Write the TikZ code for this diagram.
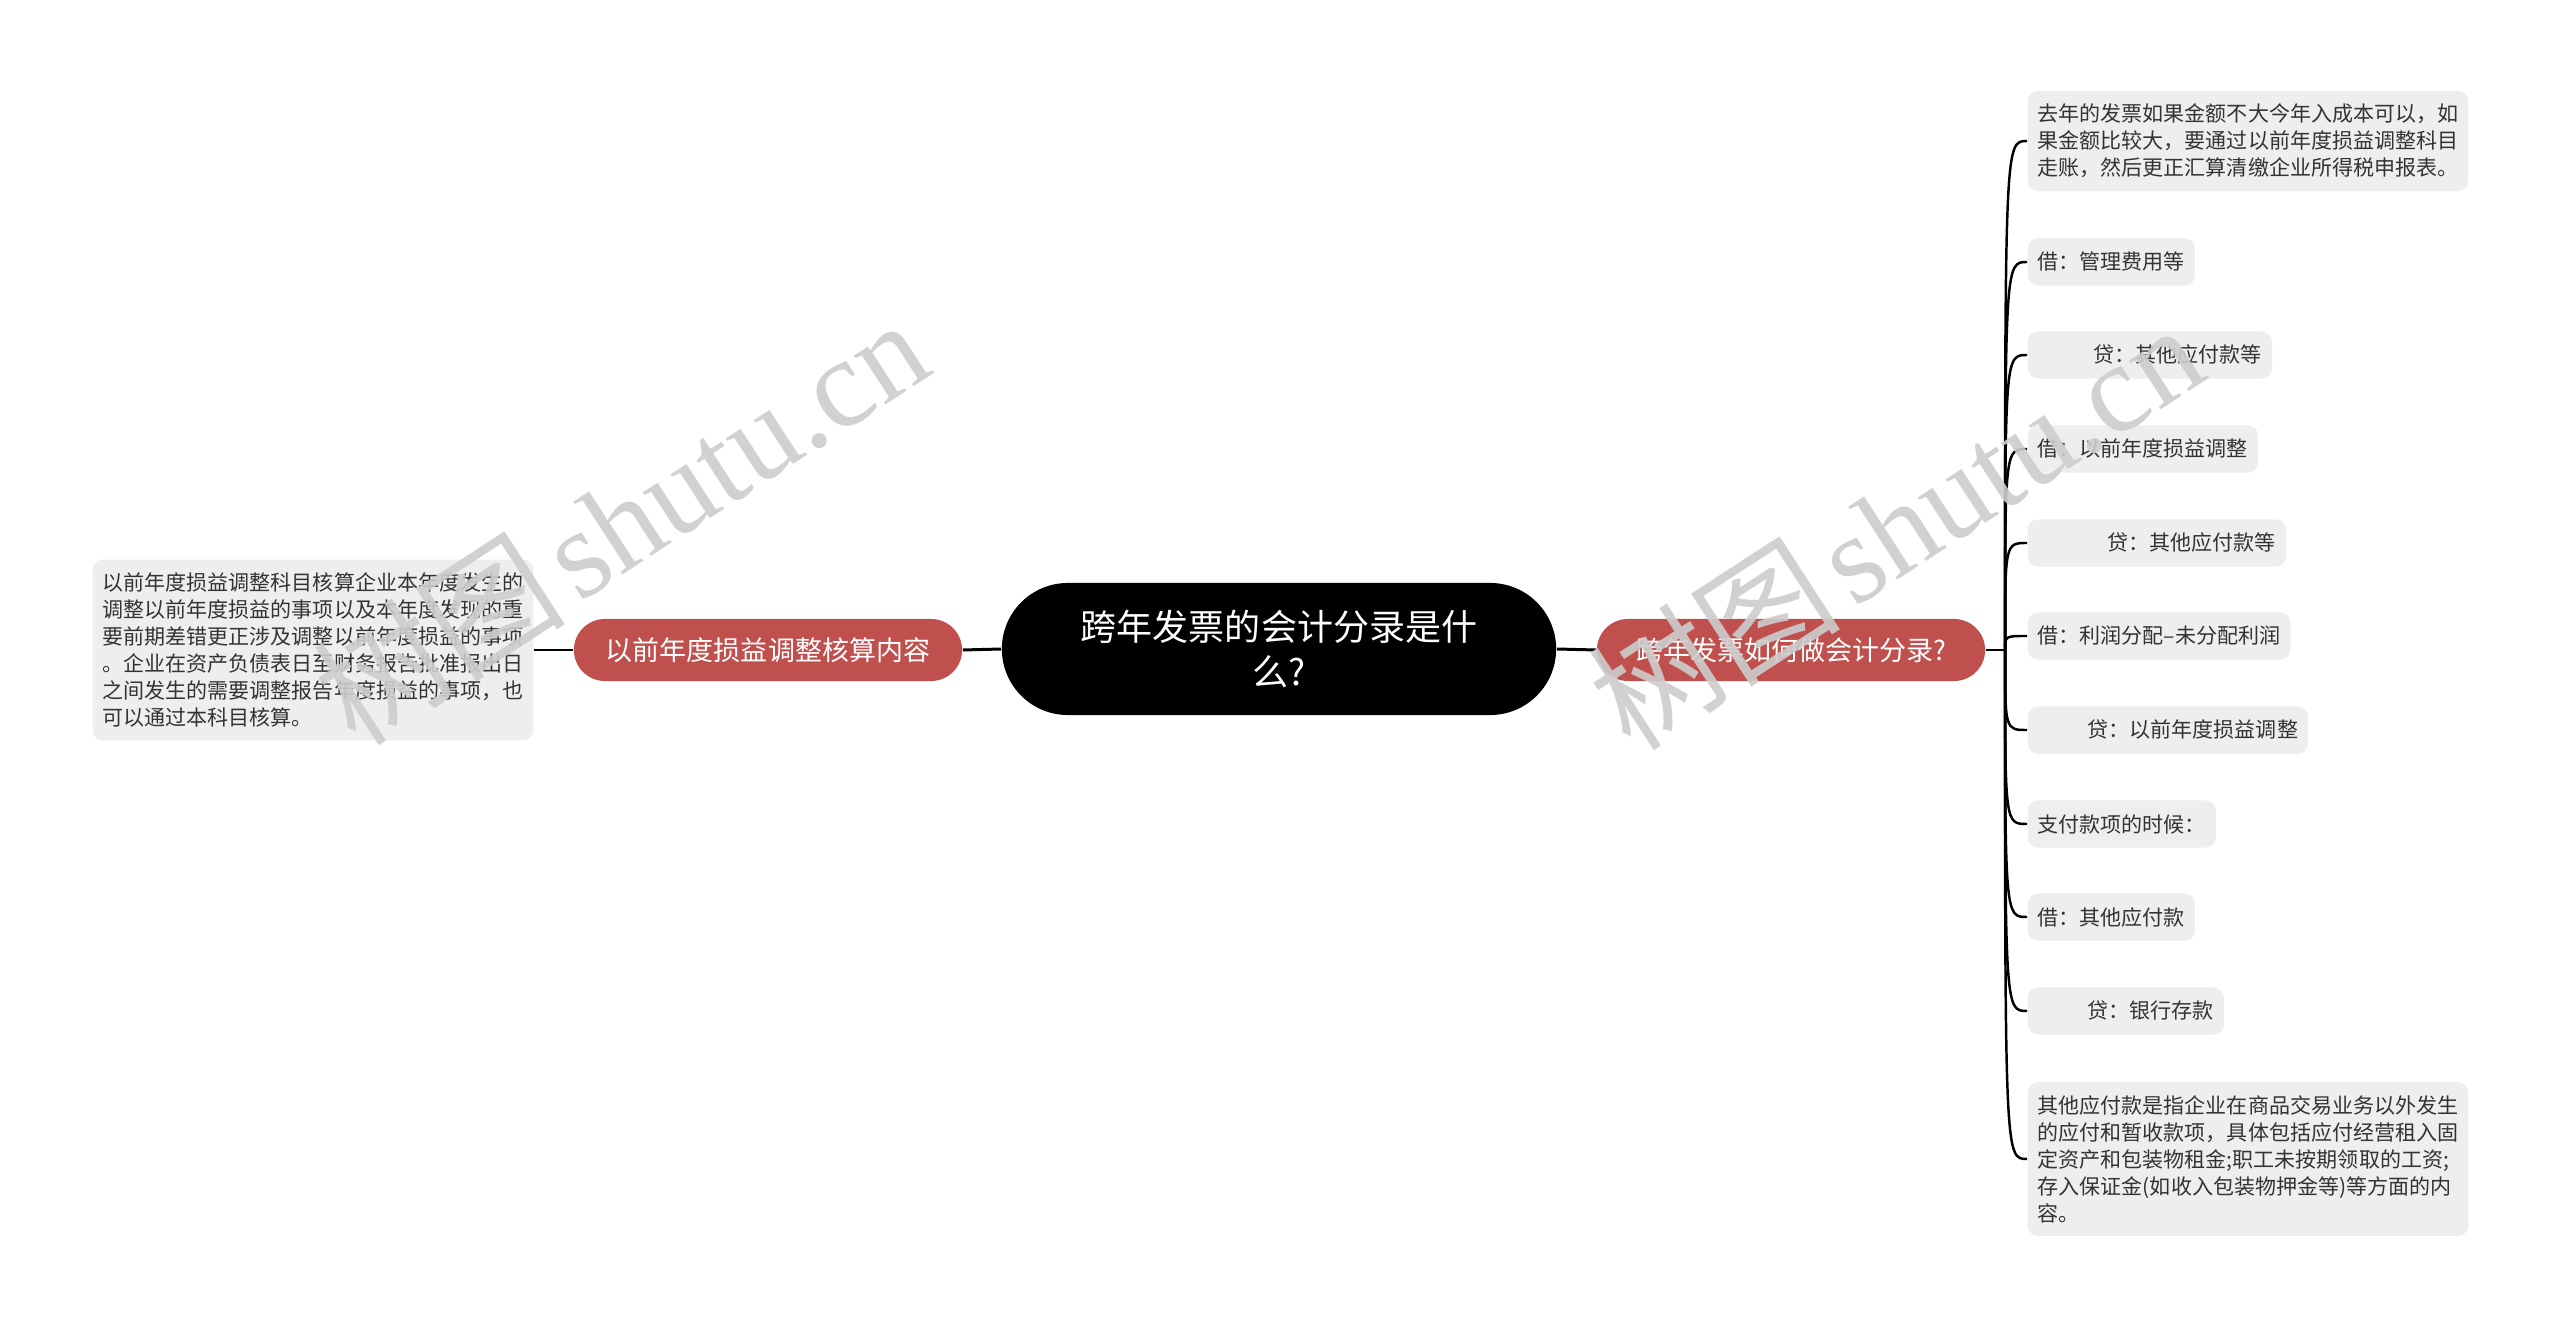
\documentclass[tikz,border=0pt]{standalone}
\usepackage{fontspec}
\setmainfont{Noto Sans CJK SC}
\newfontfamily\markfont{Liberation Serif}
\usepackage{xcolor}
\usepackage{tikz}
\usetikzlibrary{
  positioning
}
\definecolor{branchcolor}{HTML}{C0504E}
\definecolor{leafcolor}{HTML}{EEEEEE}
\definecolor{leaftext}{HTML}{333333}
\definecolor{markcolor}{HTML}{CDCDCD}

\begin{document}
\begin{tikzpicture}[
  x=0.01cm, y=-0.01cm,
  root/.style={fill=black, text=white, rounded corners=0.66cm,
               minimum width=5.54cm, minimum height=1.32cm,
               font=\fontsize{10.24pt}{12.8pt}\selectfont, align=center},
  branch/.style={fill=branchcolor, text=white, rounded corners=0.31cm,
                 minimum width=3.88cm, minimum height=0.62cm,
                 font=\fontsize{7.68pt}{9pt}\selectfont},
  leaf/.style={fill=leafcolor, text=leaftext, rounded corners=0.1cm,
               inner xsep=0.1cm, inner ysep=0.13cm, minimum height=0.47cm,
               font=\fontsize{5.98pt}{7.68pt}\selectfont, align=left},
  link/.style={line width=0.85pt, black},
  twig/.style={line width=0.7pt, black},
  wmark/.style={text=markcolor, text opacity=0.9, rotate=33,
                font=\fontsize{36pt}{36pt}\selectfont},
]
  \fill[white] (0,0) rectangle (2560,1328);
  \useasboundingbox (0,0) rectangle (2560,1328);

  % centre and main branches
  \node[root] (main) at (1279,649) {跨年发票的会计分录是什\\么?};
  \node[branch] (rbranch) at (1791,650) {跨年发票如何做会计分录?};
  \node[branch] (lbranch) at (768,650) {以前年度损益调整核算内容};

  % left leaf
  \node[leaf, anchor=east] (lleaf) at (534,650)
    {以前年度损益调整科目核算企业本年度发生的\\
     调整以前年度损益的事项以及本年度发现的重\\
     要前期差错更正涉及调整以前年度损益的事项\\
     。企业在资产负债表日至财务报告批准报出日\\
     之间发生的需要调整报告年度损益的事项，也\\
     可以通过本科目核算。};

  % right leaves
  \node[leaf, anchor=west] (r1) at (2027,141)
    {去年的发票如果金额不大今年入成本可以，如\\
     果金额比较大，要通过以前年度损益调整科目\\
     走账，然后更正汇算清缴企业所得税申报表。};
  \node[leaf, anchor=west] (r2) at (2027,262) {借：管理费用等};
  \node[leaf, anchor=west] (r3) at (2027,355) {\hspace*{0.56cm}贷：其他应付款等};
  \node[leaf, anchor=west] (r4) at (2027,449) {借：以前年度损益调整};
  \node[leaf, anchor=west] (r5) at (2027,543) {\hspace*{0.70cm}贷：其他应付款等};
  \node[leaf, anchor=west] (r6) at (2027,636) {借：利润分配–未分配利润};
  \node[leaf, anchor=west] (r7) at (2027,730) {\hspace*{0.50cm}贷：以前年度损益调整};
  \node[leaf, anchor=west] (r8) at (2027,824) {支付款项的时候：};
  \node[leaf, anchor=west] (r9) at (2027,917) {借：其他应付款};
  \node[leaf, anchor=west] (r10) at (2027,1011) {\hspace*{0.50cm}贷：银行存款};
  \node[leaf, anchor=west] (r11) at (2027,1159)
    {其他应付款是指企业在商品交易业务以外发生\\
     的应付和暂收款项，具体包括应付经营租入固\\
     定资产和包装物租金;职工未按期领取的工资;\\
     存入保证金(如收入包装物押金等)等方面的内\\
     容。};

  % connectors
  \coordinate (hub) at (2005,650);
  \draw[link] (main.east) -- (rbranch.west);
  \draw[link] (main.west) -- (lbranch.east);
  \draw[link] (lbranch.west) -- (lleaf.east);
  \draw[link] (rbranch.east) -- (hub);
  \foreach \n in {1,...,11}
    \draw[twig] (hub) .. controls (hub |- r\n.west) .. (r\n.west);

  % watermarks
  \node[wmark] (markL) at (620,520) {树图\hspace{0.1em}{\markfont shutu.cn}};
  \node[wmark] (markR) at (1895,525) {树图\hspace{0.1em}{\markfont shutu.cn}};

\end{tikzpicture}
\end{document}
